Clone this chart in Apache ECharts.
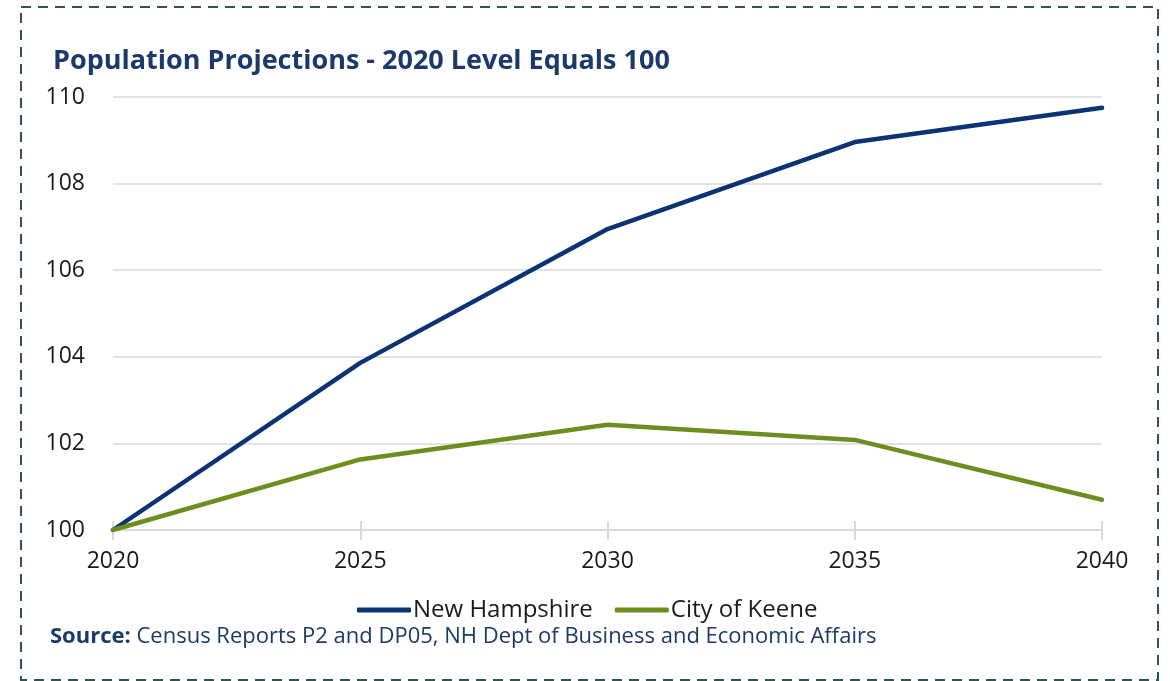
<!DOCTYPE html>
<html>
<head>
<meta charset="utf-8">
<script src="https://cdn.jsdelivr.net/npm/echarts@6/dist/echarts.min.js"></script>
<style>
  html, body { margin: 0; padding: 0; background: #fff; }
  #chart { width: 1170px; height: 681px; }
</style>
</head>
<body>
<div id="chart"></div>
<script>
// data
const years = ['2020', '2025', '2030', '2035', '2040']
const newHampshire = [100, 103.86, 106.95, 108.96, 109.75]
const cityOfKeene = [100, 101.63, 102.43, 102.08, 100.7]
const yTicks = { min: 100, max: 110, interval: 2 }

const navy = '#1b3a6b'
const font = '"Open Sans", "Noto Sans", sans-serif'

const chart = echarts.init(document.getElementById('chart'))

const option = {
  animation: false,
  title: {
    text: 'Population Projections - 2020 Level Equals 100',
    left: 53,
    top: 48,
    padding: 0,
    textStyle: { fontFamily: font, fontSize: 27, fontWeight: 'bold', color: navy }
  },
  legend: {
    data: [
      { name: 'New Hampshire', icon: 'roundRect' },
      { name: 'City of Keene', icon: 'roundRect' }
    ],
    left: 357,
    top: 598,
    padding: 0,
    itemWidth: 54,
    itemHeight: 5,
    itemGap: 22,
    textStyle: { fontFamily: font, fontSize: 24, color: '#1a1a1a', padding: [0, 0, 0, -3] }
  },
  grid: { left: 113, right: 68, top: 97, bottom: 151 },
  xAxis: [
    {
      type: 'category',
      data: years,
      boundaryGap: false,
      axisLine: { lineStyle: { color: '#d9d9d9', width: 2 } },
      axisTick: { show: true, length: 10, lineStyle: { color: '#d9d9d9', width: 2 } },
      axisLabel: { fontFamily: font, fontSize: 23, color: '#1a1a1a', margin: 20 }
    },
    {
      type: 'category',
      data: years,
      boundaryGap: false,
      position: 'bottom',
      axisLine: { show: false },
      axisTick: { show: true, inside: true, length: 9, lineStyle: { color: '#d9d9d9', width: 2 } },
      axisLabel: { show: false }
    }
  ],
  yAxis: {
    type: 'value',
    min: yTicks.min,
    max: yTicks.max,
    interval: yTicks.interval,
    axisLine: { show: false },
    axisTick: { show: false },
    splitLine: { lineStyle: { color: '#d9d9d9', width: 1.5 } },
    axisLabel: { fontFamily: font, fontSize: 23, color: '#1a1a1a', margin: 28 }
  },
  graphic: [
    {
      type: 'rect',
      silent: true,
      shape: { x: 21, y: 7, width: 1137, height: 673 },
      style: { fill: 'none', stroke: '#2f5451', lineWidth: 2, lineDash: [10, 7] }
    },
    {
      type: 'text',
      left: 50,
      top: 626,
      style: {
        text: '{b|Source:} Census Reports P2 and DP05, NH Dept of Business and Economic Affairs',
        font: '22px ' + font,
        fill: navy,
        rich: {
          b: { fontFamily: font, fontSize: 22, fontWeight: 'bold', fill: navy }
        }
      }
    }
  ],
  series: [
    {
      name: 'New Hampshire',
      type: 'line',
      data: newHampshire,
      symbol: 'none',
      lineStyle: { color: '#0b3272', width: 4.5, cap: 'round' },
      itemStyle: { color: '#0b3272' }
    },
    {
      name: 'City of Keene',
      type: 'line',
      data: cityOfKeene,
      symbol: 'none',
      lineStyle: { color: '#6b8e1f', width: 4.5, cap: 'round' },
      itemStyle: { color: '#6b8e1f' }
    }
  ]
}

chart.setOption(option)
window.addEventListener('resize', () => chart.resize())
</script>
</body>
</html>
